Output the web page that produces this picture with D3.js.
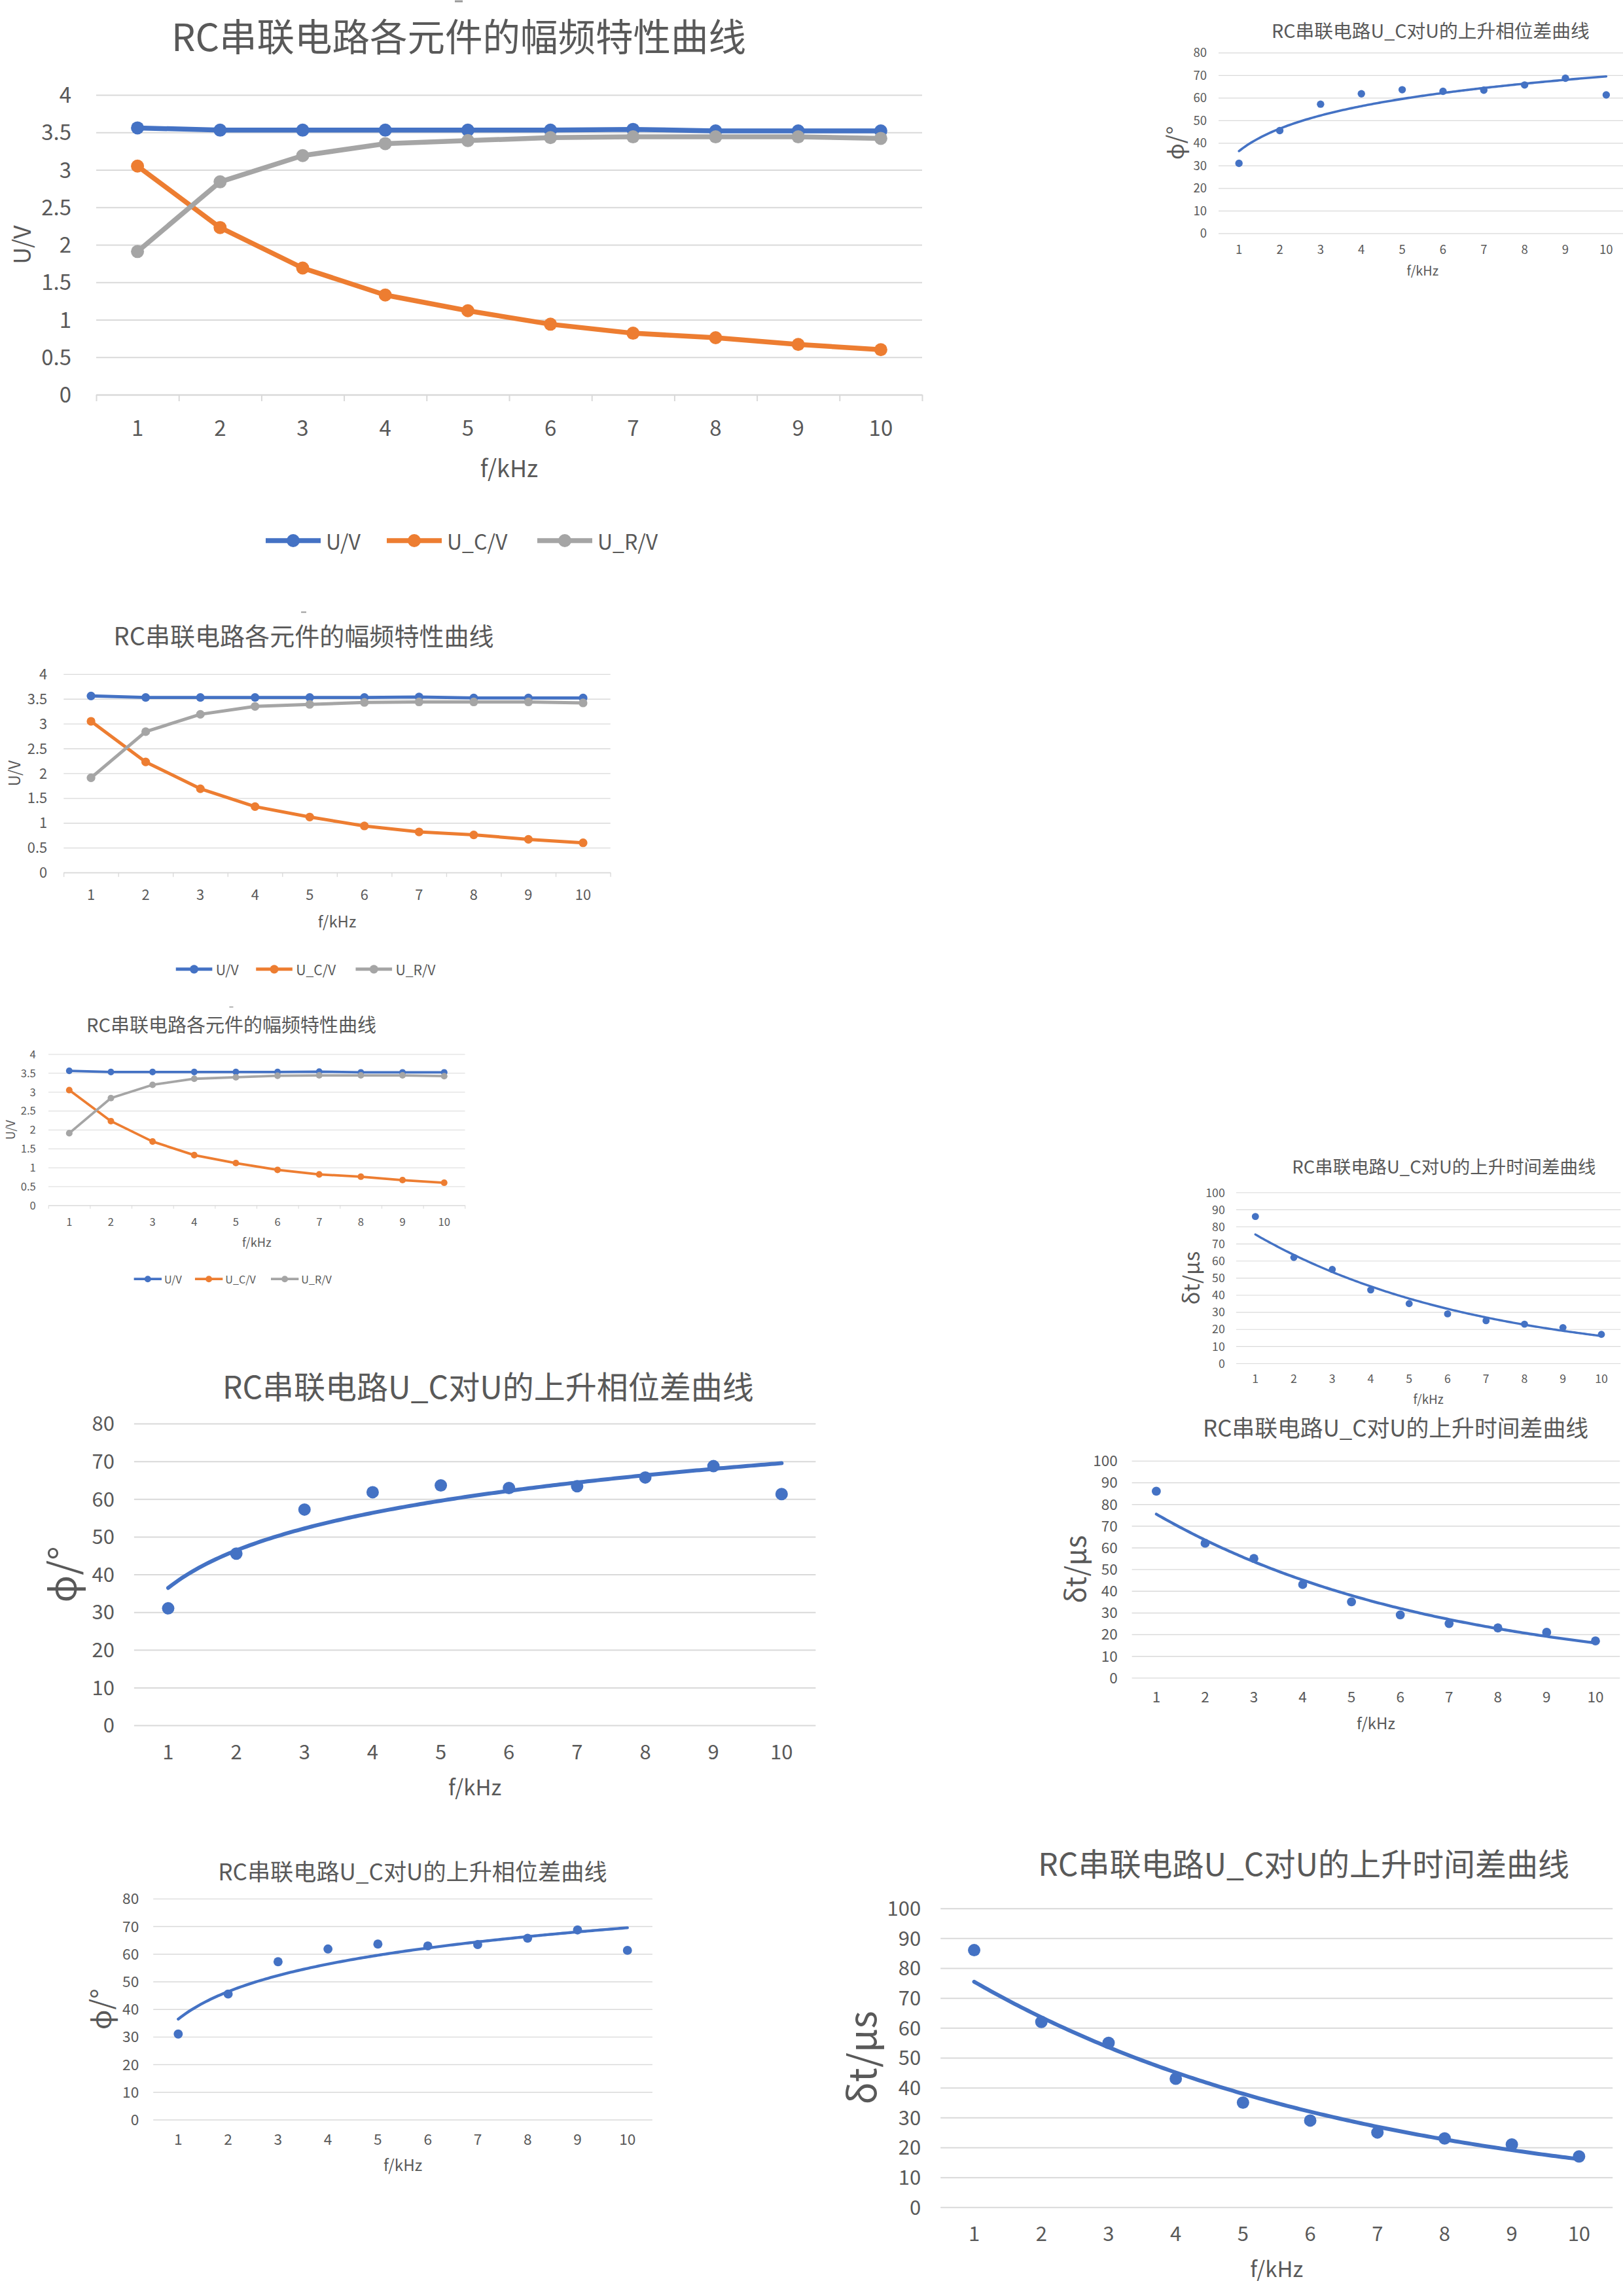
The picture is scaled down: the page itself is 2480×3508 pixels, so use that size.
<!DOCTYPE html>
<html>
<head>
<meta charset="utf-8">
<script src="https://cdn.jsdelivr.net/npm/d3@7"></script>
<style>
  body { margin: 0; background: #fff; }
  svg text { font-family: "Noto Sans CJK SC", "Noto Sans", "DejaVu Sans", sans-serif; }
</style>
</head>
<body>
<svg id="page" width="2480" height="3508"></svg>
<script>
// ---- data ----
const freq = [1, 2, 3, 4, 5, 6, 7, 8, 9, 10]            // f/kHz
const uTotal = [3.56, 3.53, 3.53, 3.53, 3.53, 3.53, 3.54, 3.52, 3.52, 3.52]
const uC = [3.05, 2.23, 1.69, 1.33, 1.12, 0.94, 0.82, 0.76, 0.67, 0.60]
const uR = [1.91, 2.84, 3.19, 3.35, 3.39, 3.43, 3.44, 3.44, 3.44, 3.42]
const phase = [31.0, 45.5, 57.2, 61.8, 63.6, 62.9, 63.4, 65.7, 68.7, 61.3]   // degrees
const deltaT = [86, 62, 55, 43, 35, 29, 25, 23, 21, 17]                      // microseconds

const ampTicks = [0, 0.5, 1, 1.5, 2, 2.5, 3, 3.5, 4]
const phaseTicks = [0, 10, 20, 30, 40, 50, 60, 70, 80]
const timeTicks = [0, 10, 20, 30, 40, 50, 60, 70, 80, 90, 100]

const ampTitle = 'RC串联电路各元件的幅频特性曲线'
const phaseTitle = 'RC串联电路U_C对U的上升相位差曲线'
const timeTitle = 'RC串联电路U_C对U的上升时间差曲线'
const ampNames = ['U/V', 'U_C/V', 'U_R/V']

// ---- where each copy of a chart sits on the page (plot area top-left + scale) ----
const ampCopies = [
  { x: 147, y: 145, s: 1 },
  { x: 97.3, y: 1030, s: 0.662 },
  { x: 74, y: 1610.7, s: 0.5044 }
]
const phaseCopies = [
  { x: 1862, y: 80.5, s: 0.5987 },
  { x: 204.9, y: 2175, s: 1 },
  { x: 234.2, y: 2901, s: 0.7323 }
]
const timeCopies = [
  { x: 1888.9, y: 1822, s: 0.572 },
  { x: 1729.6, y: 2232, s: 0.726 },
  { x: 1437.2, y: 2915.7, s: 1 }
]

const textColor = '#595959'
const gridColor = '#d9d9d9'
const colors = ['#4472c4', '#ed7d31', '#a5a5a5']

const svg = d3.select('#page')
svg.append('rect').attr('width', 2480).attr('height', 3508).attr('fill', '#fff')

// y gridlines + y tick labels, shared by both chart kinds
const drawYAxis = (g, y, ticks, W, pad, fontSize) => {
  g.append('g')
    .attr('color', gridColor)
    .call(d3.axisLeft(y).tickValues(ticks).tickSize(-W).tickFormat(''))
    .call(a => a.select('.domain').remove())
    .selectAll('line').attr('stroke-width', 2)

  g.append('g')
    .attr('color', textColor)
    .call(d3.axisLeft(y).tickValues(ticks).tickSize(0).tickPadding(pad).tickFormat(d => d))
    .call(a => a.select('.domain').remove())
    .attr('font-size', fontSize)
    .attr('font-family', null)
    .selectAll('text').attr('dy', '0.35em')
}

const drawXLabels = (g, x, H, offset, fontSize) => {
  g.append('g')
    .attr('transform', `translate(0, ${H})`)
    .attr('color', textColor)
    .call(d3.axisBottom(x).tickSize(0))
    .call(a => a.select('.domain').remove())
    .attr('font-size', fontSize)
    .attr('font-family', null)
    .selectAll('text').attr('y', offset).attr('dy', '0.35em')
}

const addText = (g, str, x, y, size, rotate) => {
  g.append('text')
    .attr('transform', `translate(${x}, ${y})` + (rotate ? ' rotate(-90)' : ''))
    .attr('text-anchor', 'middle')
    .attr('dominant-baseline', 'central')
    .attr('font-size', size)
    .attr('fill', textColor)
    .text(str)
}

// ---- amplitude chart (line chart with markers and legend) ----
const drawAmp = (g) => {
  const W = 1262, H = 458
  const x = d3.scaleBand().domain(freq).range([0, W])
  const y = d3.scaleLinear().domain([0, 4]).range([H, 0])
  const cx = d => x(d) + x.bandwidth() / 2

  // small stray mark above the title (part of the pasted picture)
  g.append('line')
    .attr('x1', 548).attr('x2', 560).attr('y1', -143).attr('y2', -143)
    .attr('stroke', '#9a9a9a').attr('stroke-width', 3)

  addText(g, ampTitle, 554, -92, 57.5)
  drawYAxis(g, y, ampTicks, W, 38, 33)

  // category axis with tick marks between categories
  g.append('g')
    .attr('transform', `translate(0, ${H})`)
    .attr('color', gridColor)
    .call(d3.axisBottom(d3.scaleLinear().domain([0, 10]).range([0, W]))
      .ticks(10).tickSize(10).tickSizeOuter(0).tickFormat(''))
    .selectAll('line, path').attr('stroke-width', 2)
  drawXLabels(g, x, H, 51, 33)

  addText(g, 'f/kHz', W / 2, H + 110, 36)
  addText(g, 'U/V', -116, H / 2, 36, true)

  const series = [uTotal, uC, uR]
  const line = d3.line().x((d, i) => cx(freq[i])).y(d => y(d))

  series.forEach((vals, k) => {
    g.append('path')
      .attr('d', line(vals))
      .attr('fill', 'none')
      .attr('stroke', colors[k])
      .attr('stroke-width', 7.5)
      .attr('stroke-linejoin', 'round')
    g.selectAll(null)
      .data(vals)
      .enter().append('circle')
        .attr('cx', (d, i) => cx(freq[i]))
        .attr('cy', d => y(d))
        .attr('r', 10)
        .attr('fill', colors[k])
  })

  // legend
  const legendX = [259, 444, 674]
  const lg = g.append('g').attr('transform', `translate(0, 681)`)
  ampNames.forEach((name, k) => {
    lg.append('line')
      .attr('x1', legendX[k]).attr('x2', legendX[k] + 84)
      .attr('stroke', colors[k]).attr('stroke-width', 7.5)
    lg.append('circle')
      .attr('cx', legendX[k] + 42).attr('r', 10).attr('fill', colors[k])
    lg.append('text')
      .attr('x', legendX[k] + 92)
      .attr('dominant-baseline', 'central')
      .attr('font-size', 32)
      .attr('fill', textColor)
      .text(name)
  })
}

// ---- least squares fits, the way the spreadsheet trendlines do it ----
const linFit = (xs, ys) => {
  const mx = d3.mean(xs), my = d3.mean(ys)
  const b = d3.sum(xs, (v, i) => (v - mx) * (ys[i] - my)) / d3.sum(xs, v => (v - mx) ** 2)
  return { a: my - b * mx, b }
}
const logFit = (xs, ys) => {
  const { a, b } = linFit(xs.map(Math.log), ys)
  return t => a + b * Math.log(t)
}
const expFit = (xs, ys) => {
  const { a, b } = linFit(xs, ys.map(Math.log))
  return t => Math.exp(a + b * t)
}

// ---- scatter chart with trendline ----
const drawScatter = (g, opt) => {
  const W = opt.W, H = opt.H
  const x = d3.scaleBand().domain(freq).range([0, W])
  const y = d3.scaleLinear().domain([0, d3.max(opt.ticks)]).range([H, 0])
  const xNum = d3.scaleLinear().domain([1, 10])
    .range([x(1) + x.bandwidth() / 2, x(10) + x.bandwidth() / 2])

  addText(g, opt.title, opt.titleX, opt.titleY, 48)
  drawYAxis(g, y, opt.ticks, W, 30, 31)
  drawXLabels(g, x, H, 41, 31)
  addText(g, 'f/kHz', W / 2, H + 93, 33)
  addText(g, opt.yLabel, opt.yLabelX, H / 2, 58, true)

  const trend = opt.fit(freq, opt.values)
  const curve = d3.line().x(t => xNum(t)).y(t => y(trend(t)))
  g.append('path')
    .attr('d', curve(d3.range(1, 10.0001, 0.05)))
    .attr('fill', 'none')
    .attr('stroke', colors[0])
    .attr('stroke-width', 6)
    .attr('stroke-linecap', 'round')

  g.selectAll(null)
    .data(opt.values)
    .enter().append('circle')
      .attr('cx', (d, i) => xNum(freq[i]))
      .attr('cy', d => y(d))
      .attr('r', 9.5)
      .attr('fill', colors[0])
}

const place = c => svg.append('g').attr('transform', `translate(${c.x}, ${c.y}) scale(${c.s})`)

ampCopies.forEach(c => drawAmp(place(c)))

phaseCopies.forEach(c => drawScatter(place(c), {
  title: phaseTitle, yLabel: 'ϕ/°', values: phase, ticks: phaseTicks,
  W: 1041.5, H: 461, titleX: 541, titleY: -59, yLabelX: -113, fit: logFit
}))

timeCopies.forEach(c => drawScatter(place(c), {
  title: timeTitle, yLabel: 'δt/μs', values: deltaT, ticks: timeTicks,
  W: 1027, H: 456.6, titleX: 555, titleY: -71, yLabelX: -123, fit: expFit
}))
</script>
</body>
</html>
